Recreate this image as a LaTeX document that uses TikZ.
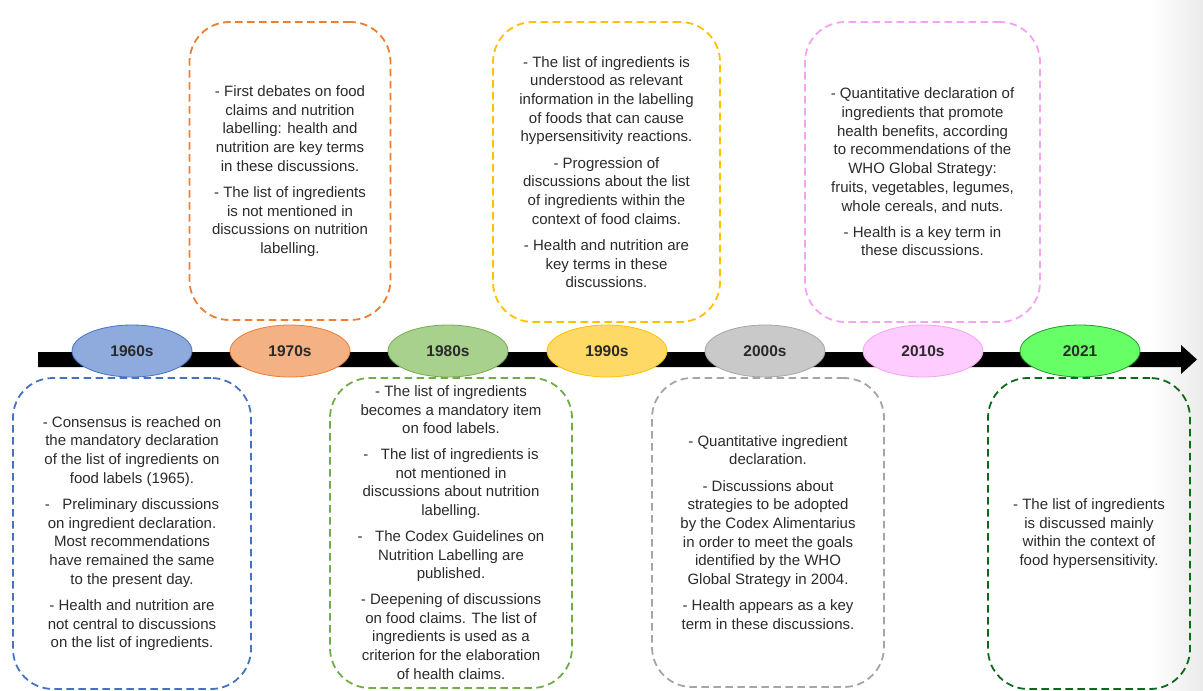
\documentclass[tikz,border=0pt]{standalone}
\usepackage{fontspec}
\setmainfont{Liberation Sans}
\usetikzlibrary{shapes.geometric}

\definecolor{txt}{HTML}{2A2A2A}
% frame colours
\definecolor{c60}{HTML}{4472C4}
\definecolor{c70}{HTML}{ED7D31}
\definecolor{c80}{HTML}{70AD47}
\definecolor{c90}{HTML}{FFC000}
\definecolor{c00}{HTML}{A5A5A5}
\definecolor{c10}{HTML}{F4A3F0}
\definecolor{c21}{HTML}{0B6B1A}
% ellipse fills
\definecolor{f60}{HTML}{8FAADC}
\definecolor{f70}{HTML}{F4B183}
\definecolor{f80}{HTML}{A9D18E}
\definecolor{f90}{HTML}{FFD966}
\definecolor{f00}{HTML}{C9C9C9}
\definecolor{f10}{HTML}{FFCCFF}
\definecolor{f21}{HTML}{66FF66}

\begin{document}
\begin{tikzpicture}[x=1pt,y=-1pt,
  period/.style={ellipse, minimum width=120pt, minimum height=52pt, inner sep=0pt,
    line width=0.8pt, font=\bfseries\fontsize{15.5}{18}\selectfont, text=txt},
  notebox/.style={rounded corners=40pt, dash pattern=on 7.5pt off 4.5pt,
    line width=1.8pt, inner sep=0pt},
  notetext/.style={align=center, font=\fontsize{15}{18.7}\selectfont,
    text=txt, inner sep=0pt}]
\useasboundingbox (0,0) rectangle (1203,691);

% faint shadow along the right edge
\shade[left color=white, right color=black!8, draw=none] (1150,0) rectangle (1203,691);

% timeline arrow
\coordinate (a1) at (38,352);
\coordinate (a2) at (1181,352);
\coordinate (a3) at (1181,345);
\coordinate (a4) at (1197,359.5);
\coordinate (a5) at (1181,374);
\coordinate (a6) at (1181,367);
\coordinate (a7) at (38,367);
\fill[black] (a1) -- (a2) -- (a3) -- (a4) -- (a5) -- (a6) -- (a7) -- cycle;

% period markers
\node[period, draw=c60, fill=f60] (e60) at (132,351) {1960s};
\node[period, draw=c70, fill=f70] (e70) at (290,351) {1970s};
\node[period, draw=c80, fill=f80] (e80) at (448,351) {1980s};
\node[period, draw=c90, fill=f90] (e90) at (607,351) {1990s};
\node[period, draw=c00, fill=f00] (e00) at (765,351) {2000s};
\node[period, draw=c10, fill=f10] (e10) at (923,351) {2010s};
\node[period, draw=c21!70!f21, fill=f21] (e21) at (1080,351) {2021};

% dashed note frames
\node[notebox, draw=c60, minimum width=238pt, minimum height=311pt] (b60) at (132,533.5) {};
\node[notebox, draw=c70, minimum width=201pt, minimum height=298pt] (b70) at (290,171) {};
\node[notebox, draw=c80, minimum width=242pt, minimum height=310pt] (b80) at (451,533) {};
\node[notebox, draw=c90, minimum width=227pt, minimum height=300pt] (b90) at (606.5,172) {};
\node[notebox, draw=c00, minimum width=232pt, minimum height=309pt] (b00) at (768,532.5) {};
\node[notebox, draw=c10, minimum width=235pt, minimum height=300pt] (b10) at (922.5,172) {};
\node[notebox, draw=c21, minimum width=202pt, minimum height=311pt] (b21) at (1089,533.5) {};

% notes
\node[notetext] (t60) at (b60.center) {%
- Consensus is reached on\\the mandatory declaration\\of the list of ingredients on\\food labels (1965).\\[7.5pt]
-\ \ \ Preliminary discussions\\on ingredient declaration.\\Most recommendations\\have remained the same\\to the present day.\\[7.5pt]
- Health and nutrition are\\not central to discussions\\on the list of ingredients.};

\node[notetext] (t70) at (b70.center) {%
- First debates on food\\claims and nutrition\\labelling: health and\\nutrition are key terms\\in these discussions.\\[7.5pt]
- The list of ingredients\\is not mentioned in\\discussions on nutrition\\labelling.};

\node[notetext] (t80) at ([yshift=0.5pt]b80.center) {%
- The list of ingredients\\becomes a mandatory item\\on food labels.\\[7pt]
-\ \ \ The list of ingredients is\\not mentioned in\\discussions about nutrition\\labelling.\\[7pt]
-\ \ \ The Codex Guidelines on\\Nutrition Labelling are\\published.\\[7pt]
- Deepening of discussions\\on food claims. The list of\\ingredients is used as a\\criterion for the elaboration\\of health claims.};

\node[notetext] (t90) at (b90.center) {%
- The list of ingredients is\\understood as relevant\\information in the labelling\\of foods that can cause\\hypersensitivity reactions.\\[7.5pt]
- Progression of\\discussions about the list\\of ingredients within the\\context of food claims.\\[7.5pt]
- Health and nutrition are\\key terms in these\\discussions.};

\node[notetext] (t00) at (b00.center) {%
- Quantitative ingredient\\declaration.\\[7.5pt]
- Discussions about\\strategies to be adopted\\by the Codex Alimentarius\\in order to meet the goals\\identified by the WHO\\Global Strategy in 2004.\\[7.5pt]
- Health appears as a key\\term in these discussions.};

\node[notetext] (t10) at (b10.center) {%
- Quantitative declaration of\\ingredients that promote\\health benefits, according\\to recommendations of the\\WHO Global Strategy:\\fruits, vegetables, legumes,\\whole cereals, and nuts.\\[7.5pt]
- Health is a key term in\\these discussions.};

\node[notetext] (t21) at (b21.center) {%
- The list of ingredients\\is discussed mainly\\within the context of\\food hypersensitivity.};
\end{tikzpicture}
\end{document}
